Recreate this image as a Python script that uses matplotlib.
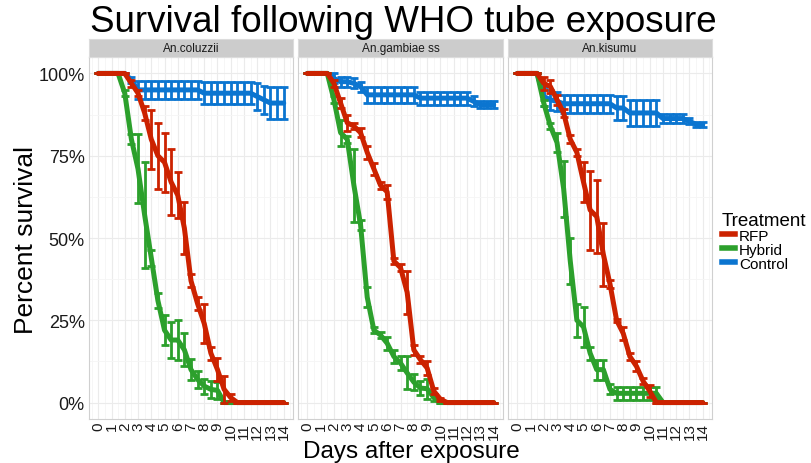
import matplotlib
matplotlib.use("Agg")
import matplotlib.pyplot as plt
from matplotlib.lines import Line2D
from matplotlib.ticker import MultipleLocator, FuncFormatter

plt.rcParams['font.family'] = ['Liberation Sans', 'DejaVu Sans']

# days after exposure (half-day steps)
days = [0, 0.5, 1, 1.5, 2, 2.5, 3, 3.5, 4, 4.5, 5, 5.5, 6, 6.5, 7,
        7.5, 8, 8.5, 9, 9.5, 10, 10.5, 11, 11.5, 12, 12.5, 13, 13.5, 14]

species = ['An.coluzzii', 'An.gambiae ss', 'An.kisumu']
treatments = ['RFP', 'Hybrid', 'Control']
colors = {'RFP': '#cc2200', 'Hybrid': '#2ca02c', 'Control': '#0b75d0'}

# percent survival
coluzzii_rfp = [100, 100, 100, 100, 100, 97, 94, 88, 80, 75, 73, 67, 63, 53, 37,
                30, 24, 15, 10, 4, 1.5, 0, 0, 0, 0, 0, 0, 0, 0]
coluzzii_rfp_err = [0, 0, 0, 0, 0, 1, 1, 2, 9, 10, 9, 10, 7, 8, 2,
                    2, 6, 2, 3.5, 4, 1, 0, 0, 0, 0, 0, 0, 0, 0]
coluzzii_hyb = [100, 100, 100, 100, 94, 80, 71, 57, 44, 31, 22, 19, 19, 16, 10,
                7, 5, 4, 3.7, 0, 0, 0, 0, 0, 0, 0, 0, 0, 0]
coluzzii_hyb_err = [0, 0, 0, 0, 1, 1.5, 10.5, 16, 2.5, 2.3, 4.5, 5.5, 6, 5, 3.3,
                    2.5, 2.3, 2.5, 2.5, 0, 0, 0, 0, 0, 0, 0, 0, 0, 0]
coluzzii_ctl = [100, 100, 100, 100, 100, 98, 95, 95, 95, 95, 95, 95, 95, 95, 95,
                95, 94, 94, 94, 94, 94, 94, 94, 94, 93, 92, 91, 91, 91]
coluzzii_ctl_err = [0, 0, 0, 0, 0, 1, 2.8, 2.8, 2.8, 2.8, 2.8, 2.8, 2.8, 2.8, 2.8,
                    2.8, 3.3, 3.3, 3.3, 3.3, 3.3, 3.3, 3.3, 3.3, 4, 4.3, 4.8, 4.8, 4.8]

gambiae_rfp = [100, 100, 100, 100, 97, 91, 85, 84, 82, 76, 71, 66, 64, 43, 41,
               33.5, 16, 13, 10.5, 3.5, 1, 0, 0, 0, 0, 0, 0, 0, 0]
gambiae_rfp_err = [0, 0, 0, 0, 1, 1.5, 2.5, 1, 1.3, 2, 1.8, 1, 2, 1, 1,
                   6.5, 1.5, 1, 2, 1, 0.5, 0, 0, 0, 0, 0, 0, 0, 0]
gambiae_hyb = [100, 100, 100, 100, 92, 82, 80, 66, 54, 32, 22, 20.5, 18, 14, 12,
               9, 6.2, 4.4, 4.2, 1.5, 0, 0, 0, 0, 0, 0, 0, 0, 0]
gambiae_hyb_err = [0, 0, 0, 0, 1, 4, 1, 11, 1.5, 3, 1, 1, 2, 2, 2,
                   5, 2.5, 2, 3, 1, 0, 0, 0, 0, 0, 0, 0, 0, 0]
gambiae_ctl = [100, 100, 100, 100, 98.5, 97.5, 97.5, 97, 96, 93.5, 93.5, 93.5, 93.5, 93.5, 93.5,
               93.5, 93.5, 92.5, 92.5, 92.5, 92.5, 92.5, 92.5, 92.5, 92.5, 91.5, 90.5, 90.5, 90.5]
gambiae_ctl_err = [0, 0, 0, 0, 1.5, 1.5, 1.5, 1.5, 1.5, 2.5, 2.5, 2.5, 2.5, 2.5, 2.5,
                   2.5, 2.5, 2, 2, 2, 2, 2, 2, 2, 2, 1.5, 1, 1, 1]

kisumu_rfp = [100, 100, 100, 100, 97, 96, 92, 88, 80, 76, 67, 58.5, 56.5, 45, 36,
              25, 21, 14, 11, 6.5, 3.5, 0, 0, 0, 0, 0, 0, 0, 0]
kisumu_rfp_err = [0, 0, 0, 0, 2, 2, 1.5, 1.3, 1.2, 1, 6, 12, 11, 9.5, 1.2,
                  0.5, 2, 1, 1.5, 1, 1.8, 0, 0, 0, 0, 0, 0, 0, 0]
kisumu_hyb = [100, 100, 100, 100, 91, 84, 79, 65, 43, 25, 23, 15, 10, 10, 4,
              2.8, 2.8, 2.8, 2.8, 2.8, 2.8, 2.8, 0, 0, 0, 0, 0, 0, 0]
kisumu_hyb_err = [0, 0, 0, 0, 1, 1, 3, 8.5, 7, 5, 6, 2, 3, 3, 1.5,
                  2, 2, 2, 2, 2, 2, 2, 0, 0, 0, 0, 0, 0, 0]
kisumu_ctl = [100, 100, 100, 100, 93, 92, 91.5, 90.8, 90.8, 90.8, 90.8, 90.8, 90.8, 90.8, 90.8,
              89.5, 89.5, 88, 88, 88, 88, 88, 86.3, 86.3, 86.3, 86.3, 85.5, 84.5, 84.5]
kisumu_ctl_err = [0, 0, 0, 0, 3, 3, 2.8, 2.8, 2.8, 2.8, 2.8, 2.8, 2.8, 2.8, 2.8,
                  3.5, 3.5, 4, 4, 4, 4, 4, 1.5, 1.5, 1.5, 1.5, 1, 0.7, 0.7]

panels = {
    'An.coluzzii': {'RFP': (coluzzii_rfp, coluzzii_rfp_err),
                    'Hybrid': (coluzzii_hyb, coluzzii_hyb_err),
                    'Control': (coluzzii_ctl, coluzzii_ctl_err)},
    'An.gambiae ss': {'RFP': (gambiae_rfp, gambiae_rfp_err),
                      'Hybrid': (gambiae_hyb, gambiae_hyb_err),
                      'Control': (gambiae_ctl, gambiae_ctl_err)},
    'An.kisumu': {'RFP': (kisumu_rfp, kisumu_rfp_err),
                  'Hybrid': (kisumu_hyb, kisumu_hyb_err),
                  'Control': (kisumu_ctl, kisumu_ctl_err)},
}

W, H = 811, 464
fig = plt.figure(figsize=(W / 100, H / 100), dpi=100)

lefts = [89, 298, 508]
widths = [204, 205, 204]
top_px, bot_px, strip_px = 58, 420, 18

for i, sp in enumerate(species):
    ax = fig.add_axes([lefts[i] / W, (H - bot_px) / H, widths[i] / W, (bot_px - top_px) / H])
    ax.set_xlim(-0.7, 14.7)
    ax.set_ylim(-5, 105)
    ax.xaxis.set_major_locator(MultipleLocator(1))
    ax.xaxis.set_minor_locator(MultipleLocator(0.5))
    ax.yaxis.set_major_locator(MultipleLocator(25))
    ax.yaxis.set_minor_locator(MultipleLocator(12.5))
    ax.grid(which='major', color='#ebebeb', linewidth=0.8)
    ax.grid(which='minor', color='#f5f5f5', linewidth=0.6)
    ax.set_axisbelow(True)
    for s in ax.spines.values():
        s.set_color('#d0d0d0')
        s.set_linewidth(0.8)
    ax.tick_params(which='both', length=0)
    ax.tick_params(axis='x', labelsize=11, labelrotation=90, pad=2, labelcolor='#1a1a1a')
    ax.tick_params(axis='y', labelsize=13, pad=3, labelcolor='#1a1a1a')
    if i == 0:
        ax.yaxis.set_major_formatter(FuncFormatter(lambda v, p: '%d%%' % v))
    else:
        ax.set_yticklabels([])

    for tr in ['Control', 'Hybrid', 'RFP']:
        vals, err = panels[sp][tr]
        ax.plot(days, vals, color=colors[tr], linewidth=3.6, solid_capstyle='round',
                solid_joinstyle='round', zorder=3)
        ax.errorbar(days, vals, yerr=err, fmt='none', ecolor=colors[tr],
                    elinewidth=2, capsize=2.8, capthick=2, zorder=3)

    # facet strip
    sax = fig.add_axes([lefts[i] / W, (H - top_px) / H, widths[i] / W, strip_px / H])
    sax.set_facecolor('#cccccc')
    sax.set_xticks([])
    sax.set_yticks([])
    for s in sax.spines.values():
        s.set_color('#dcdcdc')
        s.set_linewidth(0.8)
    sax.text(0.5, 0.5, sp, ha='center', va='center', fontsize=8.5, color='#1a1a1a',
             transform=sax.transAxes)

fig.text(403 / W, 1 - 23 / H, 'Survival following WHO tube exposure',
         ha='center', va='center', fontsize=26.5)
fig.text(26 / W, 1 - 240 / H, 'Percent survival', rotation=90, ha='center', va='center', fontsize=19)
fig.text(411 / W, 1 - 452 / H, 'Days after exposure', ha='center', va='center', fontsize=17.5)

handles = [Line2D([0], [0], color=colors[t], linewidth=4) for t in treatments]
leg = fig.legend(handles, treatments, loc='upper left', bbox_to_anchor=(714 / W, 1 - 205 / H),
                 frameon=False, fontsize=11, title='Treatment', title_fontsize=13.5,
                 handlelength=0.9, handletextpad=0.25, labelspacing=0.0, borderpad=0,
                 alignment='left')

fig.savefig('out.png', dpi=100)
